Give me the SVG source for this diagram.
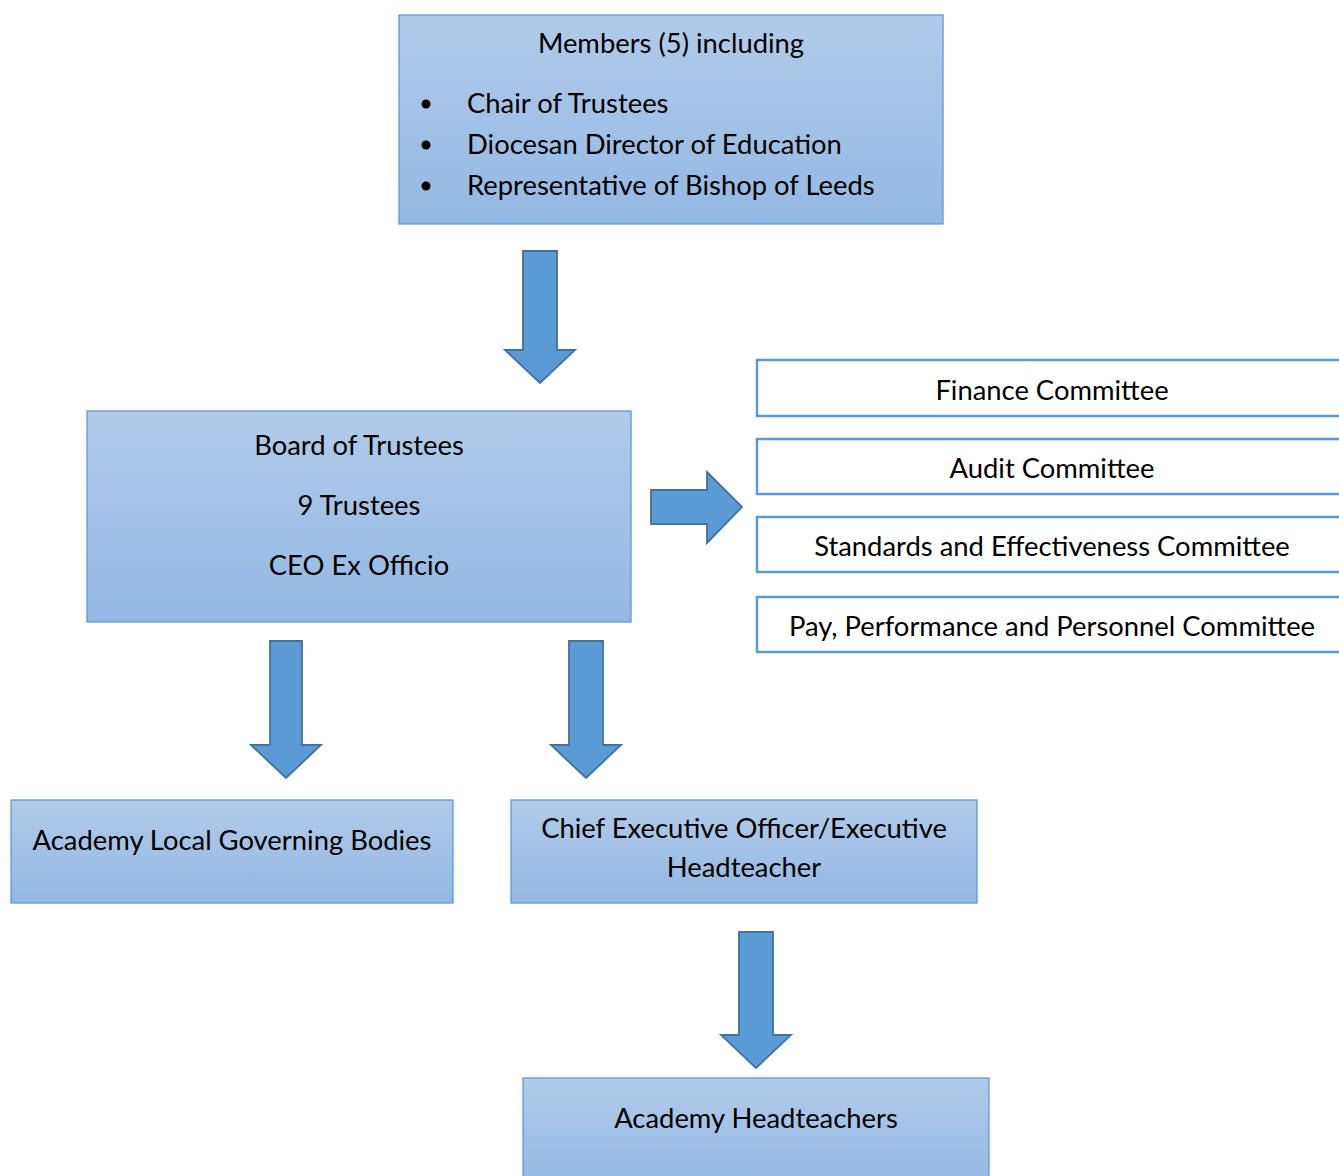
<svg xmlns="http://www.w3.org/2000/svg" width="1339" height="1176" viewBox="0 0 1339 1176">
<defs>
<linearGradient id="g" x1="0" y1="0" x2="0" y2="1">
<stop offset="0" stop-color="#b1cbe9"/>
<stop offset="1" stop-color="#94b8e3"/>
</linearGradient>
<style>
.box{fill:url(#g);stroke:#5b9bd5;stroke-width:1.3}
.cbox{fill:#ffffff;stroke:#5b9bd5;stroke-width:2.5}
.arr{fill:#5b9bd5;stroke:#41719c;stroke-width:1.8}
text{font-family:Lato,"Open Sans","Liberation Sans",sans-serif;font-size:27.4px;fill:#000}
.c{text-anchor:middle}
</style>
</defs>
<rect width="1339" height="1176" fill="#ffffff"/>
<g id="connectors">
<path class="arr" d="M523,251 H557 V350 H575 L540,383 L505,350 H523 Z"/>
<path class="arr" d="M651,490 H707 V472 L742,507 L707,543 V524 H651 Z"/>
<path class="arr" d="M270,641 H302 V745 H321 L286,778 L251,745 H270 Z"/>
<path class="arr" d="M569,641 H603 V745 H621 L586,778 L551,745 H569 Z"/>
<path class="arr" d="M739,932 H773 V1035 H791 L756,1068 L721,1035 H739 Z"/>
</g>
<g id="members">
<rect class="box" x="399" y="15" width="544" height="209"/>
<text class="c" x="671" y="53">Members (5) including</text>
<circle cx="426" cy="104" r="4.5"/>
<circle cx="426" cy="145" r="4.5"/>
<circle cx="426" cy="186" r="4.5"/>
<text x="467" y="113">Chair of Trustees</text>
<text x="467" y="154">Diocesan Director of Education</text>
<text x="467" y="195">Representative of Bishop of Leeds</text>
</g>
<g id="board">
<rect class="box" x="87" y="411" width="544" height="211"/>
<text class="c" x="359" y="455">Board of Trustees</text>
<text class="c" x="359" y="515">9 Trustees</text>
<text class="c" x="359" y="575">CEO Ex Officio</text>
</g>
<g id="finance">
<rect class="cbox" x="757" y="360" width="600" height="56"/>
<text class="c" x="1052" y="400">Finance Committee</text>
</g>
<g id="audit">
<rect class="cbox" x="757" y="439" width="600" height="55"/>
<text class="c" x="1052" y="478">Audit Committee</text>
</g>
<g id="standards">
<rect class="cbox" x="757" y="517" width="600" height="55"/>
<text class="c" x="1052" y="556">Standards and Effectiveness Committee</text>
</g>
<g id="pay">
<rect class="cbox" x="757" y="597" width="600" height="55"/>
<text class="c" x="1052" y="636">Pay, Performance and Personnel Committee</text>
</g>
<g id="lgb">
<rect class="box" x="11" y="800" width="442" height="103"/>
<text class="c" x="232" y="850">Academy Local Governing Bodies</text>
</g>
<g id="ceo">
<rect class="box" x="511" y="800" width="466" height="103"/>
<text class="c" x="744" y="838">Chief Executive Officer/Executive</text>
<text class="c" x="744" y="877">Headteacher</text>
</g>
<g id="heads">
<rect class="box" x="523" y="1078" width="466" height="110"/>
<text class="c" x="756" y="1128">Academy Headteachers</text>
</g>
</svg>
